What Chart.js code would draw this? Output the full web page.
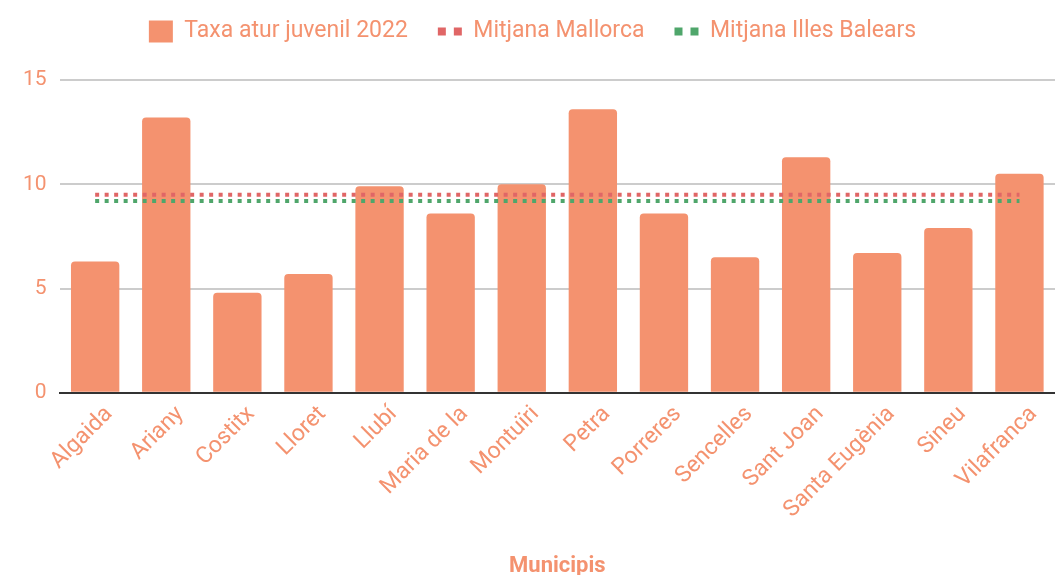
<!DOCTYPE html>
<html>
<head>
<meta charset="utf-8">
<script src="https://cdn.jsdelivr.net/npm/chart.js@4"></script>
<style>
  html, body { margin: 0; padding: 0; background: #fff; }
  #wrap { width: 1055px; height: 575px; }
</style>
</head>
<body>
<div id="wrap"><canvas id="chart"></canvas></div>
<script>
// --- data ---
const municipis = ['Algaida', 'Ariany', 'Costitx', 'Lloret', 'Llubí', 'Maria de la', 'Montuïri', 'Petra',
    'Porreres', 'Sencelles', 'Sant Joan', 'Santa Eugènia', 'Sineu', 'Vilafranca'];
const taxaAtur = [6.3, 13.2, 4.8, 5.7, 9.9, 8.6, 10.0, 13.6, 8.6, 6.5, 11.3, 6.7, 7.9, 10.5];
const mitjanaMallorca = [9.5, 9.5, 9.5, 9.5, 9.5, 9.5, 9.5, 9.5, 9.5, 9.5, 9.5, 9.5, 9.5, 9.5];
const mitjanaBalears = [9.2, 9.2, 9.2, 9.2, 9.2, 9.2, 9.2, 9.2, 9.2, 9.2, 9.2, 9.2, 9.2, 9.2];
const yTicks = [0, 5, 10, 15];

const salmon = '#f4926f';
const red = '#e06666';
const green = '#4fa66b';

const defaultLabels = Chart.defaults.plugins.legend.labels.generateLabels;

// extra space under the legend
const legendGap = {
    id: 'legendGap',
    beforeInit(chart) {
        const fit = chart.legend.fit;
        chart.legend.fit = function () {
            fit.call(this);
            this.height += 27;
        };
    }
};

new Chart(document.getElementById('chart'), {
    type: 'bar',
    data: {
        labels: municipis,
        datasets: [
            {
                label: 'Taxa atur juvenil 2022',
                data: taxaAtur,
                backgroundColor: salmon,
                borderWidth: 0,
                borderRadius: { topLeft: 4, topRight: 4 },
                borderSkipped: 'bottom',
                categoryPercentage: 1,
                barPercentage: 0.68,
                order: 2
            },
            {
                type: 'line',
                label: 'Mitjana Mallorca',
                data: mitjanaMallorca,
                borderColor: red,
                backgroundColor: red,
                borderWidth: 4,
                borderDash: [4, 5.5],
                pointRadius: 0,
                fill: false,
                order: 1
            },
            {
                type: 'line',
                label: 'Mitjana Illes Balears',
                data: mitjanaBalears,
                borderColor: green,
                backgroundColor: green,
                borderWidth: 4,
                borderDash: [4, 5.5],
                pointRadius: 0,
                fill: false,
                order: 1
            }
        ]
    },
    plugins: [legendGap],
    options: {
        responsive: true,
        maintainAspectRatio: false,
        animation: false,
        layout: { padding: { top: -10, left: 10, right: 0, bottom: -5 } },
        font: { family: 'Roboto' },
        plugins: {
            tooltip: { enabled: false },
            legend: {
                position: 'top',
                labels: {
                    usePointStyle: true,
                    pointStyleWidth: 24,
                    boxHeight: 22,
                    padding: 30,
                    color: salmon,
                    font: { family: 'Roboto', size: 23 },
                    sort: (a, b) => a.datasetIndex - b.datasetIndex,
                    generateLabels: (chart) => {
                        const items = defaultLabels(chart);
                        items.forEach((it) => {
                            if (it.datasetIndex === 0) {
                                it.pointStyle = 'rect';
                                it.lineWidth = 0;
                            } else {
                                it.pointStyle = 'line';
                                it.lineWidth = 8;
                                it.lineDash = [8, 8];
                            }
                        });
                        return items;
                    }
                }
            }
        },
        scales: {
            x: {
                grid: { display: false, drawTicks: false },
                border: { display: true, color: '#333', width: 2 },
                ticks: {
                    color: salmon,
                    font: { family: 'Roboto', size: 23 },
                    minRotation: 45,
                    maxRotation: 45,
                    autoSkip: false,
                    padding: 8,
                    labelOffset: 14
                },
                title: {
                    display: true,
                    text: 'Municipis',
                    color: salmon,
                    font: { family: 'Roboto', size: 22, weight: 'bold' },
                    padding: { top: 22, bottom: 0 }
                },
                afterFit: (s) => { s.paddingLeft = 0; s.paddingRight = 0; }
            },
            y: {
                min: 0,
                max: 15,
                grid: {
                    color: '#cccccc',
                    lineWidth: 2,
                    drawTicks: false
                },
                border: { display: false },
                afterBuildTicks: (s) => { s.ticks = yTicks.map(v => ({ value: v })); },
                ticks: {
                    color: salmon,
                    font: { family: 'Roboto', size: 21 },
                    padding: 13
                }
            }
        }
    }
});
</script>
</body>
</html>
